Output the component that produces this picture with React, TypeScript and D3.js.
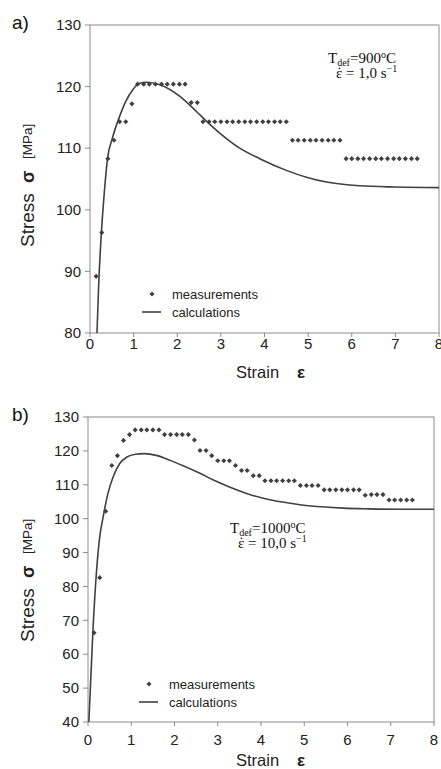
import React from "react";
import * as d3 from "d3";

// strain values of the measured points (same sampling in both tests)
const strain = [
  0.14, 0.27, 0.41, 0.55, 0.68, 0.82, 0.96, 1.09, 1.23, 1.36, 1.5, 1.64, 1.77, 1.91,
  2.05, 2.18, 2.32, 2.46, 2.59, 2.73, 2.86, 3.0, 3.14, 3.27, 3.41, 3.55, 3.68, 3.82,
  3.96, 4.09, 4.23, 4.36, 4.5, 4.64, 4.77, 4.91, 5.05, 5.18, 5.32, 5.46, 5.59, 5.73,
  5.87, 6.0, 6.14, 6.27, 6.41, 6.55, 6.68, 6.82, 6.96, 7.09, 7.23, 7.37, 7.5,
];

// a) 900 C, 1.0 1/s
const stressA = [
  89.2, 96.3, 108.3, 111.3, 114.3, 114.3, 117.2,
  120.4, 120.4, 120.4, 120.4, 120.4, 120.4, 120.4, 120.4, 120.4,
  117.4, 117.4,
  114.3, 114.3, 114.3, 114.3, 114.3, 114.3, 114.3, 114.3, 114.3, 114.3, 114.3, 114.3,
  114.3, 114.3, 114.3,
  111.3, 111.3, 111.3, 111.3, 111.3, 111.3, 111.3, 111.3, 111.3,
  108.3, 108.3, 108.3, 108.3, 108.3, 108.3, 108.3, 108.3, 108.3, 108.3, 108.3, 108.3,
  108.3,
];
const calcStrainA = [
  0.16, 0.2, 0.25, 0.33, 0.4, 0.52, 0.67, 0.82, 0.98, 1.13, 1.3, 1.6, 2.06, 2.33, 2.52,
  2.71, 2.98, 3.43, 3.89, 4.5, 5.0, 5.42, 6.18, 7.0, 8.0,
];
const calcStressA = [
  80, 88, 95, 103, 108.2, 111.8, 115, 117.6, 119.5, 120.5, 120.7, 120.3, 118.4, 116.7,
  115.4, 114.1, 112.4, 110.0, 108.3, 106.4, 105.2, 104.5, 103.9, 103.7, 103.6,
];

// b) 1000 C, 10.0 1/s
const stressB = [
  66.3, 82.6, 102.2, 115.7, 118.6, 123.1, 124.8,
  126.2, 126.2, 126.2, 126.2, 126.2,
  124.8, 124.8, 124.8, 124.8, 124.8,
  123.2, 120.1, 120.1, 118.6, 117.1, 117.1, 117.1, 115.7, 114.2, 114.2, 112.7, 112.7,
  111.2, 111.2, 111.2, 111.2, 111.2, 111.2,
  109.8, 109.8, 109.8, 109.8,
  108.5, 108.5, 108.5, 108.5, 108.5, 108.5, 108.5,
  106.9, 107.1, 107.1, 107.1,
  105.5, 105.5, 105.5, 105.5, 105.5,
];
const calcStrainB = [
  0.02, 0.11, 0.2, 0.27, 0.35, 0.46, 0.58, 0.73, 0.9, 1.1, 1.3, 1.6, 1.9, 2.2, 2.6, 2.9,
  3.3, 3.7, 4.1, 4.5, 4.9, 5.4, 5.9, 6.5, 7.2, 8.0,
];
const calcStressB = [
  40, 66, 85, 94.5, 100.5, 107.4, 112.3, 116.2, 118.2, 119.0, 119.2, 118.6, 117.2, 115.6,
  113.3, 111.4, 109.2, 107.3, 105.9, 104.9, 104.1, 103.5, 103.1, 102.9, 102.8, 102.8,
];

const xTicks = [0, 1, 2, 3, 4, 5, 6, 7, 8];
const yTicksA = [80, 90, 100, 110, 120, 130];
const yTicksB = [40, 50, 60, 70, 80, 90, 100, 110, 120, 130];
const legendLabels = ["measurements", "calculations"];

const SANS = "'Liberation Sans', Arial, sans-serif";
const SERIF = "'Liberation Serif', 'Times New Roman', serif";
const AXIS = "#8c8c8c";
const INK = "#404040";

const Panel = ({ id, box, yDomain, yTicks, meas, calcX, calcY, tag, temp, rate, txt, leg, xLabelDy, xTitleY, yTitle }) => {
  const x = d3.scaleLinear().domain([0, 8]).range([box.left, box.right]);
  const y = d3.scaleLinear().domain(yDomain).range([box.bottom, box.top]);
  const line = d3
    .line()
    .x((d) => x(d[0]))
    .y((d) => y(d[1]))
    .curve(d3.curveMonotoneX);
  const diamond = d3.symbol(d3.symbolSquare, 13)();
  const calc = calcX.map((v, i) => [v, calcY[i]]);

  return (
    <g>
      <defs>
        <clipPath id={id}>
          <rect x={box.left} y={box.top} width={box.right - box.left} height={box.bottom - box.top} />
        </clipPath>
      </defs>
      <rect
        x={box.left}
        y={box.top}
        width={box.right - box.left}
        height={box.bottom - box.top}
        fill="none"
        stroke={AXIS}
        strokeWidth={1}
      />
      {yTicks.map((t) => (
        <g key={"y" + t}>
          <line x1={box.left - 5} x2={box.left} y1={y(t)} y2={y(t)} stroke={AXIS} />
          <text x={box.left - 9} y={y(t)} dy="0.35em" textAnchor="end" fontSize={15} fontFamily={SANS} fill="#222">
            {t}
          </text>
        </g>
      ))}
      {xTicks.map((t) => (
        <g key={"x" + t}>
          <line x1={x(t)} x2={x(t)} y1={box.bottom} y2={box.bottom + 4} stroke={AXIS} />
          <text x={x(t)} y={box.bottom + xLabelDy} textAnchor="middle" fontSize={15} fontFamily={SANS} fill="#222">
            {t}
          </text>
        </g>
      ))}

      <path d={line(calc)} fill="none" stroke={INK} strokeWidth={1.6} clipPath={`url(#${id})`} />
      {strain.map((s, i) => (
        <path key={i} d={diamond} transform={`translate(${x(s)},${y(meas[i])}) rotate(45)`} fill={INK} />
      ))}

      {/* legend */}
      <path d={diamond} transform={`translate(${leg.x + 10},${leg.y}) rotate(45)`} fill={INK} />
      <text x={leg.x + 30} y={leg.y} dy="0.35em" fontSize={13} fontFamily={SANS} fill="#222">
        {legendLabels[0]}
      </text>
      <line x1={leg.x} x2={leg.x + 19} y1={leg.y + 18} y2={leg.y + 18} stroke={INK} strokeWidth={1.6} />
      <text x={leg.x + 30} y={leg.y + 18} dy="0.35em" fontSize={13} fontFamily={SANS} fill="#222">
        {legendLabels[1]}
      </text>

      {/* test conditions */}
      <text x={txt.x} y={txt.y} fontSize={15} fontFamily={SERIF} fill="#111">
        T<tspan fontSize={10} dy={3}>def</tspan>
        <tspan dy={-3}>={temp}</tspan>
        <tspan fontSize={10} dy={-5}>o</tspan>
        <tspan dy={5}>C</tspan>
      </text>
      <text x={txt.x + 8} y={txt.y + 15} fontSize={15} fontFamily={SERIF} fill="#111">
        {"\u03b5 = " + rate + " s"}
        <tspan fontSize={10} dy={-6}>{"\u22121"}</tspan>
      </text>
      <text x={txt.x + 11.3} y={txt.y + 14} textAnchor="middle" fontSize={15} fontFamily={SERIF} fill="#111">
        {"\u02d9"}
      </text>

      {/* panel tag */}
      <text x={12} y={box.top + 4} fontSize={19} fontFamily={SANS} fill="#111">
        {tag}
      </text>

      {/* axis titles */}
      <text x={236} y={xTitleY} fontSize={16.5} fontFamily={SANS} fill="#222">
        Strain
      </text>
      <text x={297} y={xTitleY} fontSize={17} fontWeight="bold" fontFamily={SANS} fill="#222">
        {"\u03b5"}
      </text>
      <text transform={`translate(34,${yTitle}) rotate(-90)`} fontSize={19} fontFamily={SANS} fill="#222">
        Stress
      </text>
      <text transform={`translate(34,${yTitle - 64}) rotate(-90)`} fontSize={18} fontWeight="bold" fontFamily={SANS} fill="#222">
        {"\u03c3"}
      </text>
      <text transform={`translate(32,${yTitle - 88}) rotate(-90)`} fontSize={13.5} fontFamily={SANS} fill="#222">
        [MPa]
      </text>
    </g>
  );
};

export default function App() {
  return (
    <svg
      width={441}
      height={769}
      style={{ position: "absolute", left: 0, top: 0, background: "#fff" }}
    >
      <Panel
        id="clipA"
        box={{ left: 90, right: 439, top: 25, bottom: 333 }}
        yDomain={[80, 130]}
        yTicks={yTicksA}
        meas={stressA}
        calcX={calcStrainA}
        calcY={calcStressA}
        tag="a)"
        temp="900"
        rate="1,0"
        txt={{ x: 328, y: 63 }}
        leg={{ x: 142, y: 294 }}
        xLabelDy={16}
        xTitleY={378}
        yTitle={247}
      />
      <Panel
        id="clipB"
        box={{ left: 88, right: 434, top: 417, bottom: 722 }}
        yDomain={[40, 130]}
        yTicks={yTicksB}
        meas={stressB}
        calcX={calcStrainB}
        calcY={calcStressB}
        tag="b)"
        temp="1000"
        rate="10,0"
        txt={{ x: 230, y: 533 }}
        leg={{ x: 139, y: 684 }}
        xLabelDy={23}
        xTitleY={766}
        yTitle={642}
      />
    </svg>
  );
}
